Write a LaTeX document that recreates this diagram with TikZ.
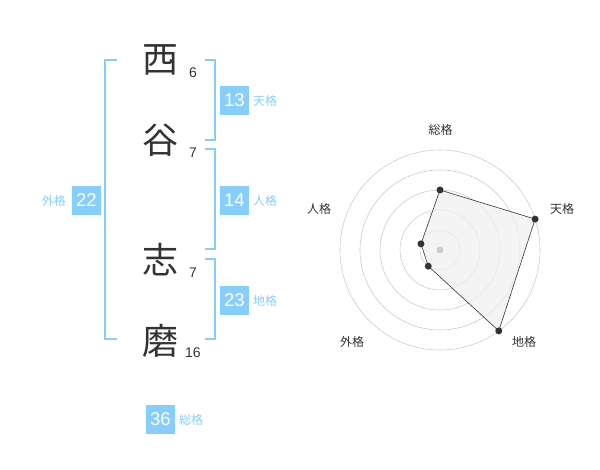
\documentclass[tikz,border=0pt]{standalone}
\usepackage{fontspec}
\usetikzlibrary{calc}
\newfontfamily\jp{Noto Sans CJK JP}
\newfontfamily\num{Liberation Sans}
\definecolor{sky}{HTML}{87CEFA}
\definecolor{dark}{HTML}{333333}
\definecolor{ring}{HTML}{CCCCCC}
\definecolor{fillg}{HTML}{F0F0F0}
\begin{document}
\begin{tikzpicture}[x=1pt,y=-1pt,
  kanji/.style={font=\jp\fontsize{36}{36}\selectfont,text=dark,inner sep=0},
  stroke/.style={font=\num\fontsize{14}{14}\selectfont,text=dark,inner sep=0},
  bracket/.style={draw=sky,line width=2pt},
  valbox/.style={fill=sky,text=white,minimum width=29pt,minimum height=29pt,inner sep=0,font=\num\fontsize{18.5}{18.5}\selectfont},
  kaku/.style={text=sky,font=\jp\fontsize{12}{12}\selectfont,inner sep=0},
  rlabel/.style={text=dark,font=\jp\fontsize{12}{12}\selectfont,inner sep=0},
  dot/.style={circle,fill=dark,inner sep=0,minimum size=7pt}]
\useasboundingbox (0,0) rectangle (600,470);
% characters
\node[kanji] (c1) at (160.5,60) {西};
\node[kanji] (c2) at (160.5,140.5) {谷};
\node[kanji] (c3) at (160.5,260) {志};
\node[kanji] (c4) at (160.5,340.5) {磨};
\node[stroke] (s1) at (193,72.7) {6};
\node[stroke] (s2) at (193,152.7) {7};
\node[stroke] (s3) at (193,272.7) {7};
\node[stroke] (s4) at (193,353) {16};
% brackets
\draw[bracket] (117,60) -- (105,60) -- (105,339.5) -- (117,339.5);
\draw[bracket] (205,60) -- (214.5,60) -- (214.5,140) -- (205,140);
\draw[bracket] (205,149.5) -- (214.5,149.5) -- (214.5,249.5) -- (205,249.5);
\draw[bracket] (205,259.5) -- (214.5,259.5) -- (214.5,339.5) -- (205,339.5);
% value boxes
\node[valbox] (v13) at (234.5,100.5) {13};
\node[kaku,anchor=west] (k13) at (253,101) {天格};
\node[valbox] (v14) at (234.5,200.5) {14};
\node[kaku,anchor=west] (k14) at (253,201) {人格};
\node[valbox] (v23) at (234.5,300.5) {23};
\node[kaku,anchor=west] (k23) at (253,301) {地格};
\node[valbox] (v22) at (86.5,200.5) {22};
\node[kaku,anchor=east] (k22) at (66,201) {外格};
\node[valbox] (v36) at (160.5,419.5) {36};
\node[kaku,anchor=west] (k36) at (179,420) {総格};
% radar
\coordinate (ctr) at (440,250);
\foreach \r in {20,40,60,80,100} \draw[ring,line width=0.6pt] (ctr) circle[radius=\r];
\coordinate (p1) at ($(ctr)+(-90:60)$);
\coordinate (p2) at ($(ctr)+(-18:100)$);
\coordinate (p3) at ($(ctr)+(54:100)$);
\coordinate (p4) at ($(ctr)+(126:20)$);
\coordinate (p5) at ($(ctr)+(198:20)$);
\draw[dark,fill=fillg,fill opacity=0.75,line width=0.6pt] (p1) -- (p2) -- (p3) -- (p4) -- (p5) -- cycle;
\node[circle,fill=ring,inner sep=0,minimum size=7pt] (cdot) at (ctr) {};
\foreach \p in {p1,p2,p3,p4,p5} \node[dot] (d\p) at (\p) {};
\node[rlabel] (l1) at (440.5,130) {総格};
\node[rlabel] (l2) at (562,209) {天格};
\node[rlabel] (l3) at (524,342) {地格};
\node[rlabel] (l4) at (352,342) {外格};
\node[rlabel] (l5) at (319,209) {人格};
\end{tikzpicture}
\end{document}
